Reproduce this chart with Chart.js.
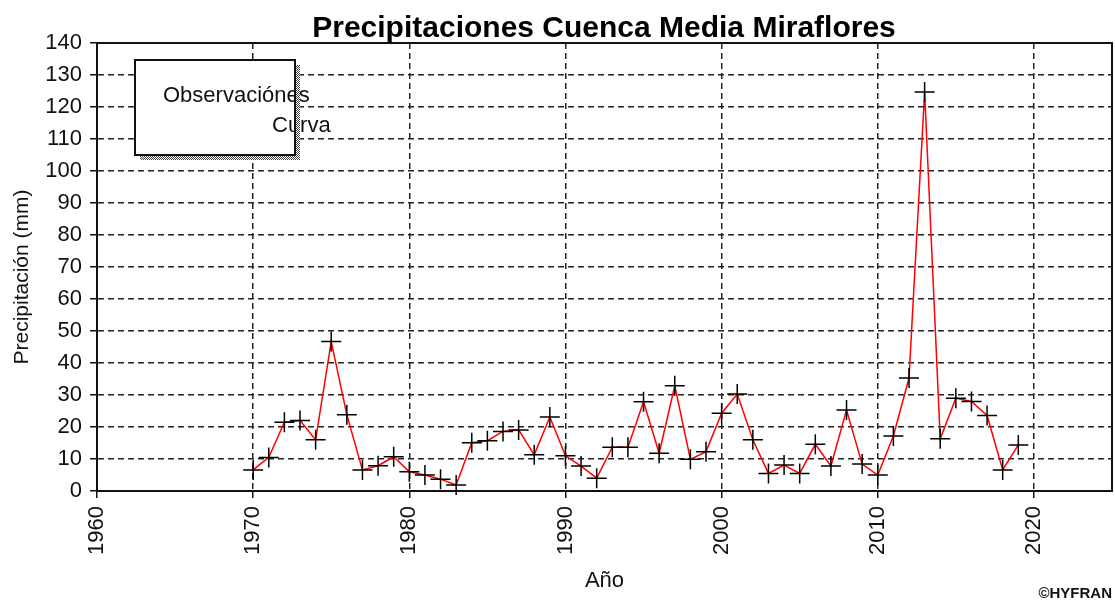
<!DOCTYPE html>
<html>
<head>
<meta charset="utf-8">
<script src="https://cdn.jsdelivr.net/npm/chart.js@4/dist/chart.umd.min.js"></script>
<style>
  html, body { margin: 0; padding: 0; background: #fff; }
  #chart { display: block; }
</style>
</head>
<body>
<canvas id="chart" width="1115" height="600"></canvas>
<script>
// Données
const years = [
  1970, 1971, 1972, 1973, 1974, 1975, 1976, 1977, 1978, 1979,
  1980, 1981, 1982, 1983, 1984, 1985, 1986, 1987, 1988, 1989,
  1990, 1991, 1992, 1993, 1994, 1995, 1996, 1997, 1998, 1999,
  2000, 2001, 2002, 2003, 2004, 2005, 2006, 2007, 2008, 2009,
  2010, 2011, 2012, 2013, 2014, 2015, 2016, 2017, 2018, 2019
];
const precipitation = [
  6.6, 10.5, 21.5, 22, 16, 46.7, 23.8, 6.6, 7.9, 10.7,
  6, 5, 3.7, 1.9, 15.1, 15.7, 18.6, 19.1, 11.3, 23.1,
  11, 7.8, 4, 13.7, 13.7, 27.9, 11.8, 32.9, 9.9, 12.3,
  24.3, 30.3, 16, 5.5, 8.1, 5.5, 14.6, 7.8, 25.3, 8.4,
  5, 17.2, 35.3, 124.7, 16.3, 29, 28, 23.6, 6.6, 14.4
];
const xRange = [1960, 2025];
const yRange = [0, 140];
const titleText = 'Precipitaciones Cuenca Media Miraflores';
const yTitleText = 'Precipitación (mm)';
const legendLabels = ['Observaciónes', 'Curva'];

const FONT = 'Arial, "Liberation Sans", sans-serif';

// Motif damier pour l'ombre de la légende
function makeChecker() {
    const c = document.createElement('canvas');
    c.width = 2; c.height = 2;
    const g = c.getContext('2d');
    g.fillStyle = '#fff'; g.fillRect(0, 0, 2, 2);
    g.fillStyle = '#444'; g.fillRect(0, 0, 1, 1); g.fillRect(1, 1, 1, 1);
    return c;
}

// Cadre, titres, légende et copyright
const decorPlugin = {
    id: 'decor',
    afterDraw(chart) {
        const ctx = chart.ctx;
        const a = chart.chartArea;
        ctx.save();
        ctx.setLineDash([]);
        ctx.strokeStyle = '#111';
        ctx.lineWidth = 2;
        ctx.strokeRect(a.left, a.top, a.right - a.left, a.bottom - a.top);

        // titre
        ctx.fillStyle = '#000';
        ctx.font = 'bold 30px ' + FONT;
        ctx.textAlign = 'center';
        ctx.textBaseline = 'alphabetic';
        ctx.fillText(titleText, 604, 37);

        // titre de l'axe Y
        ctx.save();
        ctx.translate(28, 277);
        ctx.rotate(-Math.PI / 2);
        ctx.font = '21px ' + FONT;
        ctx.fillStyle = '#111';
        ctx.textAlign = 'center';
        ctx.fillText(yTitleText, 0, 0);
        ctx.restore();

        // légende : fond, texte, puis bord et ombre par-dessus
        const bx = 135, by = 60, bw = 160, bh = 95;
        ctx.fillStyle = '#fff';
        ctx.fillRect(bx, by, bw, bh);
        ctx.fillStyle = '#111';
        ctx.font = '22px ' + FONT;
        ctx.textAlign = 'left';
        ctx.fillText(legendLabels[0], 163, 102);
        ctx.fillText(legendLabels[1], 272, 132);
        ctx.fillStyle = ctx.createPattern(makeChecker(), 'repeat');
        ctx.fillRect(bx + 5, by + bh, bw, 5);
        ctx.fillRect(bx + bw, by + 5, 5, bh);
        ctx.strokeStyle = '#111';
        ctx.lineWidth = 2;
        ctx.strokeRect(bx, by, bw, bh);

        // copyright
        ctx.fillStyle = '#111';
        ctx.font = 'bold 15px ' + FONT;
        ctx.textAlign = 'right';
        ctx.fillText('©HYFRAN', 1112, 598);
        ctx.restore();
    }
};

const ctx = document.getElementById('chart').getContext('2d');
const chart = new Chart(ctx, {
    type: 'line',
    data: {
        datasets: [{
            label: legendLabels[0],
            data: years.map((y, i) => ({ x: y, y: precipitation[i] })),
            borderColor: '#ff0000',
            borderWidth: 1.5,
            pointStyle: 'cross',
            pointRadius: 10,
            pointBorderColor: '#000',
            pointBorderWidth: 1.5,
            tension: 0,
            fill: false,
            clip: false
        }]
    },
    options: {
        responsive: false,
        animation: false,
        layout: {
            autoPadding: false,
            padding: { top: 43, right: 3, left: 0, bottom: 0 }
        },
        plugins: {
            legend: { display: false },
            tooltip: { enabled: false },
            title: { display: false }
        },
        scales: {
            x: {
                type: 'linear',
                min: xRange[0],
                max: xRange[1],
                afterFit: scale => {
                    scale.height = 109;
                    scale.paddingLeft = 0;
                    scale.paddingRight = 0;
                },
                ticks: {
                    stepSize: 10,
                    includeBounds: false,
                    minRotation: 90,
                    maxRotation: 90,
                    padding: 8,
                    color: '#111',
                    font: { family: FONT, size: 22 },
                    callback: v => String(v)
                },
                grid: {
                    color: '#222',
                    lineWidth: 1.5,
                    tickColor: '#111',
                    tickLength: 7,
                    tickWidth: 1.5,
                    tickBorderDash: []
                },
                border: { color: '#111', width: 2, dash: [6, 4] },
                title: {
                    display: true,
                    text: 'Año',
                    color: '#111',
                    font: { family: FONT, size: 22 },
                    padding: { top: 0, bottom: 6 }
                }
            },
            y: {
                min: yRange[0],
                max: yRange[1],
                afterFit: scale => {
                    scale.width = 97;
                    scale.paddingTop = 0;
                    scale.paddingBottom = 0;
                },
                ticks: {
                    stepSize: 10,
                    padding: 8,
                    color: '#111',
                    font: { family: FONT, size: 22 }
                },
                grid: {
                    color: '#222',
                    lineWidth: 1.5,
                    tickColor: '#111',
                    tickLength: 7,
                    tickWidth: 1.5,
                    tickBorderDash: []
                },
                border: { color: '#111', width: 2, dash: [6, 4] }
            }
        }
    },
    plugins: [decorPlugin]
});
</script>
</body>
</html>
